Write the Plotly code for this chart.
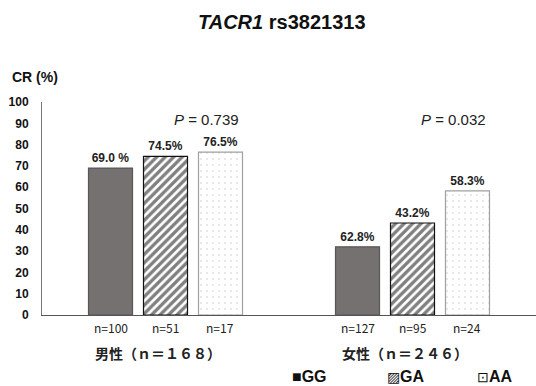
import plotly.graph_objects as go

groups = ["男性（ｎ＝１６８）", "女性（ｎ＝２４６）"]
genotypes = ["GG", "GA", "AA"]
# bar heights as drawn
values = {
    "GG": [69.0, 32.0],
    "GA": [74.5, 43.2],
    "AA": [76.5, 58.3],
}
# value labels as printed
labels = {
    "GG": ["69.0 %", "62.8%"],
    "GA": ["74.5%", "43.2%"],
    "AA": ["76.5%", "58.3%"],
}
n_labels = {
    "GG": ["n=100", "n=127"],
    "GA": ["n=51", "n=95"],
    "AA": ["n=17", "n=24"],
}
legend_symbols = {"GG": "■", "GA": "▨", "AA": "⊡"}
legend_symbol_sizes = {"GG": 16, "GA": 14, "AA": 14}
p_values = ["0.739", "0.032"]
y_ticks = list(range(0, 101, 10))

W, H = 536, 386
ML, MR, MT, MB = 42, 0, 102, 71
PW = W - ML - MR
PH = H - MT - MB
BARGAP = 0.332
BARGROUPGAP = 0.2
cat_px = PW / len(groups)
slot_px = cat_px * (1 - BARGAP) / len(genotypes)

FONT = "Liberation Sans, Arial"
CJK = "Noto Sans CJK JP"

styles = {
    "GG": dict(color="#757170", line=dict(color="#5a5656", width=1.2)),
    "GA": dict(color="white", line=dict(color="#111111", width=1.2),
               pattern=dict(shape="/", fgcolor="#000000", bgcolor="white", size=6, solidity=0.55)),
    "AA": dict(color="white", line=dict(color="#a0a0a0", width=1.2),
               pattern=dict(shape=".", fgcolor="#8a8a8a", bgcolor="white", size=6, solidity=0.05)),
}

fig = go.Figure()
for g in genotypes:
    fig.add_trace(go.Bar(
        x=groups, y=values[g], name=g,
        marker=styles[g],
        text=labels[g], textposition="outside", cliponaxis=False,
        textfont=dict(family=FONT, size=12, color="#222222", weight="bold"),
        textangle=0, showlegend=False,
    ))

annotations = []
for gi, grp in enumerate(groups):
    for k, g in enumerate(genotypes):
        annotations.append(dict(
            x=grp, xref="x", y=0, yref="y", yanchor="top", yshift=-2,
            xshift=(k - 1) * slot_px, showarrow=False,
            text=n_labels[g][gi],
            font=dict(family=CJK, size=12, color="#222222"),
        ))
    annotations.append(dict(
        x=grp, xref="x", y=0, yref="y", yanchor="top", yshift=-26, xshift=-8,
        showarrow=False, text=grp,
        font=dict(family=CJK, size=14, color="#222222", weight="bold"),
    ))
    annotations.append(dict(
        x=grp, xref="x", y=92, yref="y", yanchor="middle", xshift=41,
        showarrow=False, text="<i>P</i> = " + p_values[gi],
        font=dict(family=FONT, size=15, color="#222222"),
    ))

# legend drawn as text entries
leg_x = [290, 385, 475]
for k, g in enumerate(genotypes):
    annotations.append(dict(
        x=(leg_x[k] - ML) / PW, xref="paper", xanchor="left",
        y=0, yref="paper", yanchor="middle", yshift=-(376 - (MT + PH)),
        showarrow=False,
        text="<span style='font-size:%dpx'>%s</span><b>%s</b>" % (legend_symbol_sizes[g], legend_symbols[g], g),
        font=dict(family=FONT, size=16, color="#111111"),
    ))

annotations.append(dict(
    x=(282 - ML) / PW, xref="paper", y=1, yref="paper", yanchor="middle", yshift=MT - 22,
    showarrow=False, text="<b><i>TACR1</i> rs3821313</b>",
    font=dict(family=FONT, size=20, color="#111111"),
))
annotations.append(dict(
    x=-32 / PW, xref="paper", xanchor="left", y=1, yref="paper", yanchor="middle", yshift=25,
    showarrow=False, text="<b>CR (%)</b>",
    font=dict(family=FONT, size=14, color="#111111"),
))

fig.update_layout(
    width=W, height=H,
    margin=dict(l=ML, r=MR, t=MT, b=MB, pad=0, autoexpand=False),
    plot_bgcolor="white", paper_bgcolor="white",
    barmode="group", bargap=BARGAP, bargroupgap=BARGROUPGAP,
    xaxis=dict(showticklabels=False, ticks="", showgrid=False, zeroline=False,
               showline=True, linecolor="#555555", linewidth=1, range=[-0.5, 1.5]),
    yaxis=dict(range=[0, 100], tickvals=y_ticks, showgrid=False, zeroline=False,
               showline=True, linecolor="#777777", linewidth=1, ticks="",
               tickfont=dict(family=FONT, size=12, color="#111111", weight="bold"),
               ticklabelstandoff=10),
    showlegend=False,
    annotations=annotations,
)

fig.write_html("out.html", config={"displayModeBar": False},
               post_script="document.body.style.margin='0px';")
